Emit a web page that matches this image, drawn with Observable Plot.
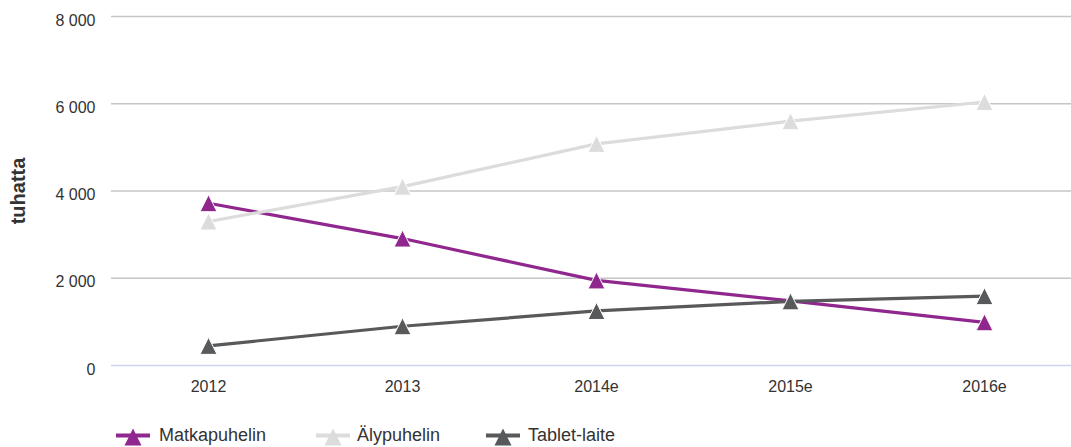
<!DOCTYPE html>
<html>
<head>
<meta charset="utf-8">
<script src="https://cdn.jsdelivr.net/npm/d3@7"></script>
<script src="https://cdn.jsdelivr.net/npm/@observablehq/plot@0.6"></script>
<style>
  body { margin: 0; background: #fff; font-family: "Liberation Sans", Arial, sans-serif; }
  #wrap { position: relative; width: 1071px; height: 447px; overflow: hidden; }
  #legend { position: absolute; left: 0; top: 410px; width: 1071px; height: 37px; }
  .item { position: absolute; top: 0; height: 37px; }
  .item svg { position: absolute; top: 16px; left: 0; }
  .item span { position: absolute; top: 14px; white-space: nowrap; font-size: 18px; color: #333; line-height: 22px; }
</style>
</head>
<body>
<div id="wrap"></div>
<script>
const categories = ["2012", "2013", "2014e", "2015e", "2016e"];
const matkapuhelin = [3720, 2910, 1950, 1480, 990];
const alypuhelin = [3300, 4100, 5080, 5600, 6040];
const tabletLaite = [450, 900, 1250, 1470, 1590];
const yTicks = [0, 2000, 4000, 6000, 8000];
const seriesNames = ["Matkapuhelin", "Älypuhelin", "Tablet-laite"];
const seriesColors = ["#90278e", "#dcdcdc", "#58595b"];
const seriesValues = [matkapuhelin, alypuhelin, tabletLaite];
const yLabel = "tuhatta";

const data = seriesNames.flatMap((name, s) =>
  categories.map((c, i) => ({ series: name, year: c, value: seriesValues[s][i] }))
);

// Highcharts-style triangle (bbox centered)
const triangle = {
  draw(context, size) {
    const h = Math.sqrt(size / Math.PI);
    context.moveTo(0, -h);
    context.lineTo(h, h);
    context.lineTo(-h, h);
    context.closePath();
  }
};

const fmt = d => d3.format(",")(d).replace(/,/g, " ");

const seriesMarks = seriesNames.flatMap((name, s) => {
  const rows = data.filter(d => d.series === name);
  return [
    Plot.line(rows, { x: "year", y: "value", stroke: seriesColors[s], strokeWidth: 3.2 }),
    Plot.dot(rows, { x: "year", y: "value", symbol: triangle, r: 8.5, fill: seriesColors[s], stroke: "#fff", strokeWidth: 1 })
  ];
});

const chart = Plot.plot({
  width: 1071,
  height: 410,
  marginLeft: 111,
  marginRight: 0,
  marginTop: 16,
  marginBottom: 45,
  style: { fontFamily: "'Liberation Sans', Arial, sans-serif", fontSize: "16px", color: "#333", background: "#fff" },
  x: { type: "point", domain: categories, range: [207, 984], padding: 0 },
  y: { domain: [0, 8000] },
  marks: [
    Plot.ruleY(yTicks.filter(d => d > 0), { stroke: "#c6c6c6", strokeWidth: 1.5 }),
    Plot.ruleY([0], { stroke: "#ccd6eb", strokeWidth: 1.5 }),
    Plot.axisY({ ticks: yTicks, tickSize: 0, tickPadding: 16, tickFormat: fmt, dy: 4, fill: "#333", fontSize: 16, label: null }),
    Plot.axisX({ tickSize: 0, tickPadding: 15, fill: "#333", fontSize: 16, label: null }),
    Plot.text([yLabel], { text: d => d, frameAnchor: "left", textAnchor: "middle", dx: -93, rotate: -90, fontWeight: "bold", fontSize: 20, fill: "#333" }),
    ...seriesMarks
  ]
});

const wrap = document.getElementById("wrap");
wrap.appendChild(chart);

// Legend
const legend = document.createElement("div");
legend.id = "legend";
const symbolX = [116, 316, 486];
const textX = [159, 357, 528];
seriesNames.forEach((name, s) => {
  const item = document.createElement("div");
  item.className = "item";
  item.style.left = symbolX[s] + "px";
  const svg = d3.create("svg").attr("width", 34).attr("height", 21);
  svg.append("line").attr("x1", 0).attr("x2", 34).attr("y1", 9.5).attr("y2", 9.5)
    .attr("stroke", seriesColors[s]).attr("stroke-width", 4);
  const h = 8.5;
  svg.append("path").attr("d", `M17,${11 - h}L${17 + h},${11 + h}L${17 - h},${11 + h}Z`)
    .attr("fill", seriesColors[s]);
  item.appendChild(svg.node());
  const span = document.createElement("span");
  span.textContent = name;
  span.style.left = (textX[s] - symbolX[s]) + "px";
  item.appendChild(span);
  legend.appendChild(item);
});
wrap.appendChild(legend);
</script>
</body>
</html>
